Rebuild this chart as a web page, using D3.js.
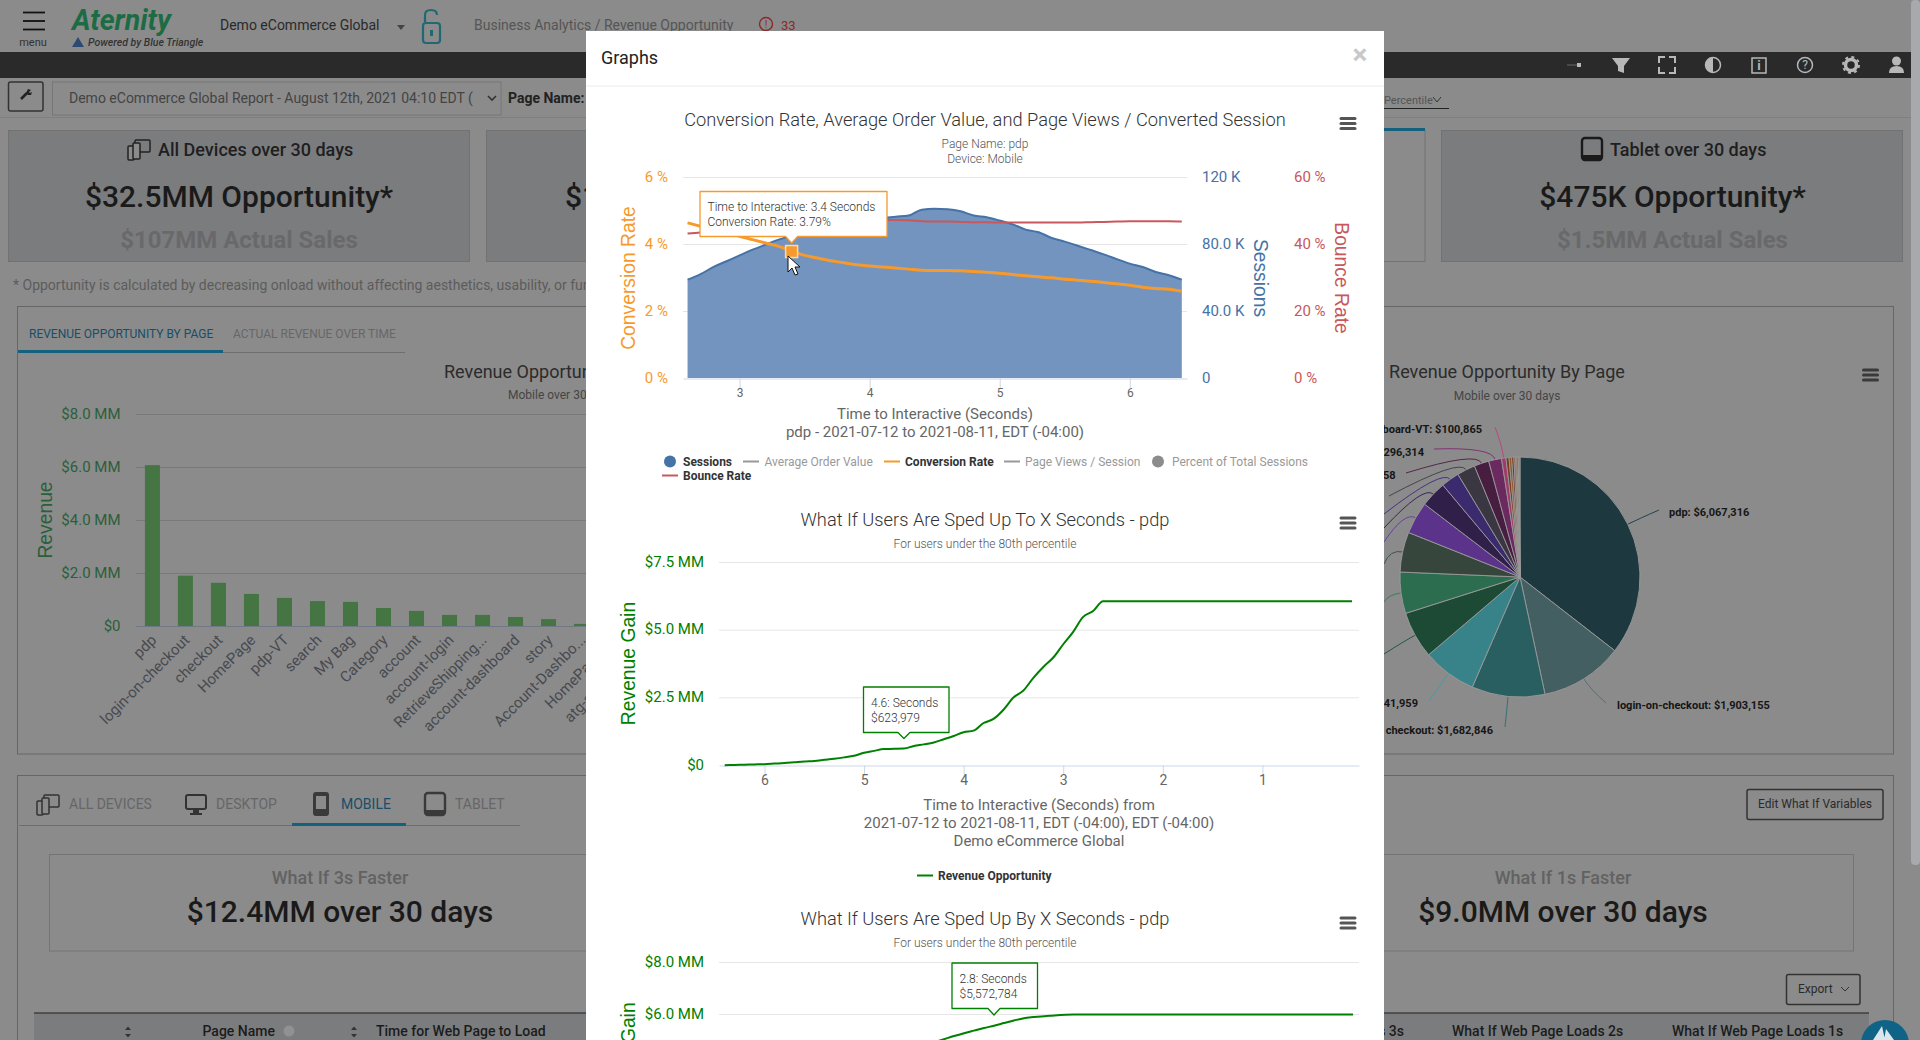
<!DOCTYPE html>
<html>
<head>
<meta charset="utf-8">
<title>Revenue Opportunity</title>
<script src="https://cdn.jsdelivr.net/npm/d3@7"></script>
<style>
  html, body { margin: 0; padding: 0; background: #8b8b8b; overflow: hidden; }
  svg { display: block; font-family: Roboto, sans-serif; }
  .axisTitle { font-family: "Liberation Sans", Arial, sans-serif; font-size: 19.3px; }
</style>
</head>
<body>
<svg id="page" width="1920" height="1040"></svg>
<script>
// Chart 1: sessions, conversion and bounce by time to interactive
var timeSeconds = [2.6,2.7,2.8,2.9,3.0,3.1,3.2,3.3,3.4,3.5,3.6,3.7,3.8,3.9,4.0,4.1,4.2,4.3,4.4,4.5,4.6,4.7,4.8,4.9,5.0,5.1,5.2,5.3,5.4,5.5,5.6,5.7,5.8,5.9,6.0,6.1,6.2,6.3,6.4];
var sessions = [58.7,62,66.3,69.7,73.2,76.6,79.6,82.6,85,87.5,90,91.5,93,94.5,95,95.5,96.3,97,100.5,101,100.7,99.5,97,96,94,91.7,88.6,87,83.6,81.4,79,76.4,73.8,71,68.3,66.3,63.3,61.3,58.7];
var conversionRate = [4.63,4.53,4.44,4.34,4.23,4.13,4.03,3.93,3.79,3.66,3.58,3.5,3.44,3.38,3.34,3.31,3.28,3.25,3.22,3.21,3.21,3.2,3.18,3.16,3.13,3.09,3.05,3.02,2.99,2.95,2.92,2.89,2.85,2.81,2.77,2.71,2.67,2.65,2.59];
var bounceRate = [43.1,43.4,43.8,44.2,44.7,45.2,45.6,46,46.3,46.6,46.8,46.9,47,47.1,47.1,47.2,47.2,47.1,46.8,46.7,46.7,46.6,46.5,46.5,46.4,46.4,46.4,46.4,46.4,46.4,46.4,46.5,46.6,46.7,46.8,46.8,46.8,46.8,46.7];
var percentTicks = [0, 2, 4, 6];
var sessionTicks = [0, 40, 80, 120];
var sessionTickLabels = ["0", "40.0 K", "80.0 K", "120 K"];
var bounceTicks = [0, 20, 40, 60];
var secondTicks = [3, 4, 5, 6];

// Chart 2: what if users are sped up to x seconds
var toSeconds = [6.4,6.3,6.2,6.1,6.0,5.9,5.8,5.7,5.6,5.5,5.4,5.3,5.2,5.1,5.0,4.9,4.8,4.7,4.6,4.5,4.4,4.3,4.2,4.1,4.0,3.9,3.8,3.7,3.6,3.5,3.4,3.3,3.2,3.1,3.0,2.9,2.8,2.7,2.6,2.0,1.0,0.1];
var toRevenue = [0.01,0.02,0.03,0.04,0.05,0.07,0.09,0.12,0.15,0.17,0.21,0.25,0.3,0.36,0.47,0.54,0.61,0.615,0.624,0.72,0.78,0.85,0.97,1.09,1.23,1.29,1.57,1.72,2.06,2.51,2.77,3.24,3.64,3.99,4.48,4.94,5.49,5.71,6.07,6.07,6.07,6.07];
var toRevenueTicks = [0, 2.5, 5, 7.5];
var toSecondTicks = [6, 5, 4, 3, 2, 1];

// Chart 3: what if users are sped up by x seconds (only the top of it is on screen)
var bySeconds = [2.2,2.3,2.4,2.5,2.6,2.7,2.8,2.9,3.0,3.1,3.2,3.36,3.6,4.0,5.0,6.4];
var byRevenue = [4.93,5.05,5.17,5.28,5.38,5.48,5.57,5.67,5.77,5.86,5.9,5.95,6.0,6.0,6.0,6.0];
var byRevenueTicks = [0, 2, 4, 6, 8];

// Background page: bar chart
var pageNames = ["pdp","login-on-checkout","checkout","HomePage","pdp-VT","search","My Bag","Category","account","account-login","RetrieveShipping...","account-dashboard","story","Account-Dashbo...","HomePage-VT","atg-account-login"];
var pageRevenue = [6.07,1.9,1.63,1.21,1.06,0.94,0.91,0.68,0.57,0.42,0.42,0.34,0.26,0.08,0.07,0.05];
var barTicks = [0, 2, 4, 6, 8];

// Background page: pie chart
var pieNames = ["pdp","login-on-checkout","checkout","HomePage","pdp-VT","search","My Bag","Category","account","account-login","RetrieveShipping","account-dashboard","story","Account-Dashboard-VT"];
var pieValues = [6067316,1903155,1682846,1241959,1080000,950000,920000,740000,600000,420000,420000,340958,296314,100865,70000,60000,50000,40000,30000,30000,20000,20000];
var pieColors = ["#1d383e","#445f62","#2a5f61","#38838a","#1d4a35","#2b6d4e","#36463d","#5b338a","#2f1f49","#3c2a6f","#3b3742","#471e3f","#6a2a60","#a03a6a","#7a3a20","#8b5a2b","#6e2f1d","#7d5a30","#a0522d","#5e4a2a","#8b4a20","#6a5a3a"];

var svg = d3.select("#page");
var page = svg.append("g");
var modal = svg.append("g");

function label(g, str, x, y, opts) {
  opts = opts || {};
  return g.append("text")
    .attr("x", x).attr("y", y)
    .attr("dy", "0.35em")
    .attr("text-anchor", opts.anchor || "start")
    .attr("font-size", opts.size || 14)
    .attr("font-weight", opts.weight || 400)
    .attr("font-style", opts.style || "normal")
    .attr("fill", opts.color || "#222")
    .text(str);
}

function box(g, x, y, w, h, fill, stroke, sw, r) {
  return g.append("rect")
    .attr("x", x).attr("y", y).attr("width", w).attr("height", h)
    .attr("fill", fill).attr("stroke", stroke || "none")
    .attr("stroke-width", sw || 1).attr("rx", r || 0);
}

function hline(g, x1, x2, y, color, sw) {
  g.append("line").attr("x1", x1).attr("x2", x2).attr("y1", y).attr("y2", y)
    .attr("stroke", color).attr("stroke-width", sw || 1);
}

function burger(g, x, y, color) {
  [-5, 0, 5].forEach(function(d) {
    g.append("line").attr("x1", x - 7).attr("x2", x + 7).attr("y1", y + d).attr("y2", y + d)
      .attr("stroke", color).attr("stroke-width", 3).attr("stroke-linecap", "round");
  });
}

function tabletIcon(g, x, y, w, h, color) {
  box(g, x + 1, y + 1, w - 2, h - 2, "none", color, 2.4, 3);
  box(g, x + 1, y + h - 6, w - 2, 5, color, null, 1, 1);
}

function desktopIcon(g, x, y, color) {
  box(g, x + 1, y + 1, 20, 14, "none", color, 2, 2);
  box(g, x + 8, y + 16, 6, 3, color);
  box(g, x + 5, y + 19, 12, 2, color);
}

function devicesIcon(g, x, y, color) {
  box(g, x + 8, y + 1, 15, 12, "none", color, 1.5, 1);
  box(g, x + 1, y + 7, 6, 14, "#8b8b8b", color, 1.5, 1);
  box(g, x + 6, y + 4, 7, 16, "#8b8b8b", color, 1.5, 1);
}

// ---- background page ----
function drawHeader() {
  [12.5, 21, 29.5].forEach(function(y) { hline(page, 23, 45, y, "#111", 1.8); });
  label(page, "menu", 33, 42, {anchor: "middle", size: 11, color: "#333"});
  label(page, "Aternity", 72, 20, {size: 28.5, weight: 700, style: "italic", color: "#1d6b45"});
  page.append("path").attr("d", d3.line()([[72, 47], [78, 37], [84, 47]]) + "Z").attr("fill", "#2d4a73");
  label(page, "Powered by Blue Triangle", 88, 42, {size: 10.5, weight: 500, style: "italic", color: "#333"});
  label(page, "Demo eCommerce Global", 220, 25, {size: 14, color: "#2a2a2a"});
  page.append("path").attr("d", d3.line()([[397, 25], [405, 25], [401, 30]]) + "Z").attr("fill", "#444");
  box(page, 423, 23, 17, 20, "none", "#1f6a72", 2.2, 3);
  page.append("path").attr("d", "M425 22 V15 Q425 10 431 10 Q437 10 437 15").attr("fill", "none").attr("stroke", "#1f6a72").attr("stroke-width", 2.2);
  box(page, 430, 30, 3, 6, "#1f6a72");
  label(page, "Business Analytics / Revenue Opportunity", 474, 25, {size: 14, color: "#555"});
  page.append("circle").attr("cx", 766).attr("cy", 24).attr("r", 6.5).attr("fill", "none").attr("stroke", "#8a2a2a").attr("stroke-width", 1.4);
  label(page, "!", 766, 24, {anchor: "middle", size: 10, color: "#8a2a2a"});
  label(page, "33", 781, 25, {size: 13, color: "#8a2a2a"});

  box(page, 0, 52, 1911, 26, "#2a2a2a");

  var c = "#b8b8b8";
  hline(page, 1567, 1578, 65, "#555", 1.5);
  box(page, 1577, 63, 4, 4, c);
  page.append("path").attr("d", d3.line()([[1612, 58], [1630, 58], [1624, 66], [1624, 73], [1618, 71], [1618, 66]]) + "Z").attr("fill", c);
  page.append("path").attr("d", "M1659 63 V57 H1665 M1669 57 H1675 V63 M1675 67 V73 H1669 M1665 73 H1659 V67").attr("fill", "none").attr("stroke", c).attr("stroke-width", 2);
  page.append("circle").attr("cx", 1713).attr("cy", 65).attr("r", 7.5).attr("fill", "none").attr("stroke", c).attr("stroke-width", 1.5);
  page.append("path").attr("d", "M1713 57.5 A7.5 7.5 0 0 0 1713 72.5 Z").attr("fill", c);
  box(page, 1752, 58, 14, 15, "none", c, 1.5);
  label(page, "i", 1759, 65, {anchor: "middle", size: 13, weight: 700, color: c});
  page.append("circle").attr("cx", 1805).attr("cy", 65).attr("r", 7.5).attr("fill", "none").attr("stroke", c).attr("stroke-width", 1.5);
  label(page, "?", 1805, 65, {anchor: "middle", size: 12, color: c});
  page.append("circle").attr("cx", 1851).attr("cy", 65).attr("r", 5.5).attr("fill", "none").attr("stroke", c).attr("stroke-width", 3.5);
  page.append("circle").attr("cx", 1851).attr("cy", 65).attr("r", 8).attr("fill", "none").attr("stroke", c).attr("stroke-width", 2).attr("stroke-dasharray", "3 3.3");
  page.append("circle").attr("cx", 1896.5).attr("cy", 61).attr("r", 4.5).attr("fill", c);
  page.append("path").attr("d", "M1889 73 Q1889 66 1896.5 66 Q1904 66 1904 73 Z").attr("fill", c);

  box(page, 8.5, 82, 34.5, 29, "none", "#333", 1.5, 2);
  page.append("path").attr("d", "M21 99 L27 93").attr("fill", "none").attr("stroke", "#222").attr("stroke-width", 2.6);
  page.append("path").attr("d", "M26 93 L28 89 L31 90 L29 92 L30 93 L32 92 L31 95 L28 95 Z").attr("fill", "#222");
  box(page, 52.5, 82, 448.5, 33, "none", "#777", 1);
  label(page, "Demo eCommerce Global Report - August 12th, 2021 04:10 EDT (", 69, 98, {size: 14, color: "#444"});
  page.append("path").attr("d", "M488 96 L492 100 L496 96").attr("fill", "none").attr("stroke", "#333").attr("stroke-width", 1.6);
  label(page, "Page Name:", 508, 98, {size: 14, weight: 700, color: "#222"});
  hline(page, 0, 1911, 117.5, "#7f7f7f");
  label(page, "Percentile", 1384, 100, {size: 11, color: "#555"});
  page.append("path").attr("d", "M1433 97 L1437 102 L1441 97").attr("fill", "none").attr("stroke", "#333");
  hline(page, 1384, 1449, 108.5, "#222");
}

function drawCards() {
  var cardFill = "#7b7c7e", cardLine = "#727272";
  box(page, 8.5, 130.5, 461, 131, cardFill, cardLine);
  box(page, 486.5, 130.5, 200, 131, cardFill, cardLine);
  box(page, 1300, 130.5, 125, 131, "none", cardLine);
  box(page, 1300, 128, 125, 3, "#14607f");
  box(page, 1441.5, 130.5, 461, 131, cardFill, cardLine);

  devicesIcon(page, 127, 139, "#222");
  label(page, "All Devices over 30 days", 158, 150, {size: 18, weight: 500, color: "#1f1f1f"});
  label(page, "$32.5MM Opportunity*", 239, 196, {anchor: "middle", size: 30, weight: 500, color: "#1a1a1a"});
  label(page, "$107MM Actual Sales", 239, 239.5, {anchor: "middle", size: 24, weight: 700, color: "#69696b"});
  label(page, "$1", 565, 196, {size: 30, weight: 500, color: "#1a1a1a"});

  tabletIcon(page, 1581, 137, 22, 24, "#1a1a1a");
  label(page, "Tablet over 30 days", 1610, 150, {size: 18, weight: 500, color: "#1f1f1f"});
  label(page, "$475K Opportunity*", 1672.5, 196, {anchor: "middle", size: 30, weight: 500, color: "#1a1a1a"});
  label(page, "$1.5MM Actual Sales", 1672.5, 239.5, {anchor: "middle", size: 24, weight: 700, color: "#69696b"});

  label(page, "* Opportunity is calculated by decreasing onload without affecting aesthetics, usability, or functionality", 13, 285, {size: 14, color: "#5c5c5c"});
}

function drawBarChart() {
  box(page, 17.5, 306.5, 1876, 447.5, "none", "#666");
  label(page, "REVENUE OPPORTUNITY BY PAGE", 29, 333.5, {size: 12, color: "#174e69"});
  label(page, "ACTUAL REVENUE OVER TIME", 233, 333.5, {size: 12, color: "#676767"});
  hline(page, 18, 405, 352.5, "#6e6e6e");
  box(page, 18, 350, 205, 3, "#14607f");
  label(page, "Revenue Opportunity By Page", 444, 371.5, {size: 18, color: "#2b2b2b"});
  label(page, "Mobile over 30 days", 508, 395, {size: 12, color: "#454545"});

  var x = d3.scaleBand().domain(pageNames).range([136, 136 + 33 * pageNames.length]).paddingInner(0.545).paddingOuter(0.27);
  var y = d3.scaleLinear().domain([0, 8]).range([626, 414]);

  var grid = page.append("g");
  grid.selectAll("line").data(barTicks).join("line")
    .attr("x1", 136).attr("x2", 1384)
    .attr("y1", function(d) { return y(d) + 0.5; }).attr("y2", function(d) { return y(d) + 0.5; })
    .attr("stroke", d3.color("#797979")).attr("stroke-width", 1);

  var yAxis = d3.axisLeft(y).tickValues(barTicks).tickSize(0).tickPadding(15)
    .tickFormat(function(d) { return d === 0 ? "$0" : "$" + d.toFixed(1) + " MM"; });
  page.append("g").attr("transform", "translate(135.5,0)").call(yAxis)
    .call(function(g) { g.select(".domain").remove(); })
    .selectAll("text").attr("fill", "#2b5f3a").attr("font-size", 15).attr("font-family", "Roboto");

  page.append("g").selectAll("rect").data(pageRevenue).join("rect")
    .attr("x", function(d, i) { return x(pageNames[i]); })
    .attr("width", x.bandwidth())
    .attr("y", function(d) { return y(d); })
    .attr("height", function(d) { return y(0) - y(d); })
    .attr("fill", "#467544");

  var xAxis = d3.axisBottom(x).tickSize(0).tickPadding(0);
  var xg = page.append("g").attr("transform", "translate(0,626)").call(xAxis);
  xg.select(".domain").remove();
  xg.selectAll("text")
    .attr("font-family", "Roboto").attr("font-size", 15).attr("fill", "#474a50")
    .attr("text-anchor", "end").attr("dy", 0)
    .attr("transform", "translate(5,15) rotate(-45)");

  hline(page, 136, 586, 626.5, "#6f7884");
  page.append("text").attr("class", "axisTitle")
    .attr("transform", "translate(45,520) rotate(-90)")
    .attr("dy", "0.35em").attr("text-anchor", "middle").attr("fill", "#2a5f3a").text("Revenue");
}

function drawPie() {
  var cx = 1520, cy = 577, r = 120;
  label(page, "Revenue Opportunity By Page", 1507, 371.5, {anchor: "middle", size: 18, color: "#2b2b2b"});
  label(page, "Mobile over 30 days", 1507, 395.5, {anchor: "middle", size: 12, color: "#454545"});
  burger(page, 1870.5, 375, "#3a3a3a");

  var pie = d3.pie().sort(null).value(function(d) { return d; });
  var arcs = pie(pieValues);
  var arc = d3.arc().innerRadius(0).outerRadius(r);
  var g = page.append("g").attr("transform", "translate(" + cx + "," + cy + ")");

  // where each connector ends, relative to the page
  var connectorEnds = [[1659,510],[1606,703],[1505,727],[1429,701],[1384,654],[1384,602],[1384,564],[1384,542],[1384,528],[1384,514],[1389,496],[1406,473],[1434,449],[1495,427]];
  connectorEnds.forEach(function(end, i) {
    var a = (arcs[i].startAngle + arcs[i].endAngle) / 2;
    var sx = Math.sin(a) * r, sy = -Math.cos(a) * r;
    var cxx = Math.sin(a) * (r + 13), cyy = -Math.cos(a) * (r + 13);
    g.append("path")
      .attr("d", "M" + sx + " " + sy + " Q" + cxx + " " + cyy + " " + (end[0] - cx) + " " + (end[1] - cy))
      .attr("fill", "none").attr("stroke", d3.color(pieColors[i]).brighter(0.5)).attr("stroke-width", 1);
  });

  g.selectAll("path.slice").data(arcs).join("path").attr("class", "slice")
    .attr("d", arc)
    .attr("fill", function(d, i) { return pieColors[i]; })
    .attr("stroke", "#9a9a9a").attr("stroke-width", 0.9);

  function pieText(i) { return pieNames[i] + ": $" + d3.format(",")(pieValues[i]); }
  var opts = {size: 11, weight: 700, color: "#161616"};
  label(page, pieText(0), 1669, 512, opts);
  label(page, pieText(1), 1617, 705, opts);
  var endOpts = {size: 11, weight: 700, color: "#161616", anchor: "end"};
  label(page, pieText(2), 1493, 730, endOpts);
  label(page, pieText(3), 1418, 703, endOpts);
  label(page, pieText(11), 1395.5, 475, endOpts);
  label(page, pieText(12), 1424, 452, endOpts);
  label(page, pieText(13), 1482, 429, endOpts);
}

function drawWhatIf() {
  box(page, 17.5, 775.5, 1876, 300, "none", "#666");
  devicesIcon(page, 36, 794, "#333");
  label(page, "ALL DEVICES", 69, 804, {size: 14, color: "#666"});
  desktopIcon(page, 185, 794, "#333");
  label(page, "DESKTOP", 216, 804, {size: 14, color: "#666"});
  box(page, 313, 792, 16, 24, "#3a3a3a", null, 1, 3);
  box(page, 316, 796, 10, 13, "#8b8b8b");
  label(page, "MOBILE", 341, 804, {size: 14, color: "#174e69"});
  tabletIcon(page, 424, 792, 22, 24, "#3a3a3a");
  label(page, "TABLET", 455, 804, {size: 14, color: "#666"});
  hline(page, 19, 520, 825.5, "#6e6e6e");
  box(page, 292, 823, 114, 3, "#14607f");

  box(page, 49.5, 854.5, 1804, 96.5, "none", "#747474");
  label(page, "What If 3s Faster", 340, 877.5, {anchor: "middle", size: 18, weight: 500, color: "#626262"});
  label(page, "$12.4MM over 30 days", 340, 911.5, {anchor: "middle", size: 30, weight: 500, color: "#1a1a1a"});
  label(page, "What If 1s Faster", 1563, 877.5, {anchor: "middle", size: 18, weight: 500, color: "#626262"});
  label(page, "$9.0MM over 30 days", 1563, 911.5, {anchor: "middle", size: 30, weight: 500, color: "#1a1a1a"});

  box(page, 1747, 789.5, 136, 30, "none", "#333", 1.5, 2);
  label(page, "Edit What If Variables", 1815, 804, {anchor: "middle", size: 12, color: "#2a2a2a"});
  box(page, 1786.5, 974.5, 73.5, 30, "none", "#333", 1.5, 2);
  label(page, "Export", 1798, 989, {size: 12, color: "#2a2a2a"});
  page.append("path").attr("d", "M1841 987 L1845 991 L1849 987").attr("fill", "none").attr("stroke", "#333");

  box(page, 34, 1013, 1835, 27, "#7b7c7e");
  hline(page, 34, 1869, 1013, "#1e1e1e", 1.2);
  var sortX = [128, 354];
  sortX.forEach(function(sx) {
    page.append("path").attr("d", "M" + (sx - 3) + " 1030 L" + sx + " 1026.5 L" + (sx + 3) + " 1030 Z M" + (sx - 3) + " 1034 L" + sx + " 1037.5 L" + (sx + 3) + " 1034 Z").attr("fill", "#333");
  });
  label(page, "Page Name", 202.5, 1031.5, {size: 14, weight: 500, color: "#1c1c1c"});
  page.append("circle").attr("cx", 289).attr("cy", 1031).attr("r", 5.5).attr("fill", "#8f9194");
  label(page, "Time for Web Page to Load", 376, 1031, {size: 14, weight: 500, color: "#1c1c1c"});
  label(page, "What If Web Page Loads 3s", 1404, 1031, {anchor: "end", size: 14, weight: 500, color: "#1c1c1c"});
  label(page, "What If Web Page Loads 2s", 1452, 1031, {size: 14, weight: 500, color: "#1c1c1c"});
  label(page, "What If Web Page Loads 1s", 1672, 1031, {size: 14, weight: 500, color: "#1c1c1c"});
  page.append("circle").attr("cx", 1885).attr("cy", 1044).attr("r", 24).attr("fill", "#0f6386");
  page.append("path").attr("d", "M1873 1040 L1882 1026 L1885 1040 Z M1884 1040 L1886 1029 L1894 1040 Z").attr("fill", "#d9e6ec");
  box(page, 1911, 0, 9, 865, "#a7a9ac", null, 1, 4);
}

// ---- modal charts ----
function tooltip(g, x, y, w, h, tipX, tipY, color, lines) {
  var arrow = 6;
  var path = d3.path();
  path.moveTo(x, y); path.lineTo(x + w, y); path.lineTo(x + w, y + h);
  path.lineTo(tipX + arrow, y + h); path.lineTo(tipX, tipY); path.lineTo(tipX - arrow, y + h);
  path.lineTo(x, y + h); path.closePath();
  g.append("path").attr("d", path.toString()).attr("fill", "#fff").attr("stroke", color)
    .attr("stroke-width", 1.3).attr("stroke-linejoin", "round");
  lines.forEach(function(t, i) {
    label(g, t, x + 7.5, y + 15.5 + i * 15, {size: 12, weight: 300, color: "#333"});
  });
}

function legendLine(g, x, y, color) {
  g.append("line").attr("x1", x).attr("x2", x + 16).attr("y1", y).attr("y2", y)
    .attr("stroke", color).attr("stroke-width", 2);
}

function styleTicks(sel, color, size) {
  sel.call(function(g) { g.select(".domain").remove(); });
  sel.selectAll("text").attr("fill", color).attr("font-size", size).attr("font-family", "Roboto");
}

function drawChartOne() {
  var g = modal.append("g");
  var x = d3.scaleLinear().domain([2.565, 6.44]).range([683, 1187]);
  var yConv = d3.scaleLinear().domain([0, 6]).range([378, 177]);
  var ySess = d3.scaleLinear().domain([0, 120]).range([378, 177]);
  var yBounce = d3.scaleLinear().domain([0, 60]).range([378, 177]);
  var orange = "#f79a2d", blue = "#4572a7", red = "#c8585c";

  label(g, "Conversion Rate, Average Order Value, and Page Views / Converted Session", 985, 120, {anchor: "middle", size: 18.25, weight: 300, color: "#333"});
  label(g, "Page Name: pdp", 985, 144, {anchor: "middle", size: 12, weight: 300, color: "#555"});
  label(g, "Device: Mobile", 985, 159, {anchor: "middle", size: 12, weight: 300, color: "#555"});
  burger(g, 1348, 123.5, "#555");

  percentTicks.forEach(function(t) {
    if (t > 0) hline(g, 683, 1187, yConv(t) + 0.5, "#e6e6e6");
  });

  var yLeft = d3.axisLeft(yConv).tickValues(percentTicks).tickSize(0).tickPadding(15).tickFormat(function(d) { return d + " %"; });
  g.append("g").attr("transform", "translate(683,0)").call(yLeft).call(styleTicks, orange, 15);
  var ySessAxis = d3.axisRight(ySess).tickValues(sessionTicks).tickSize(0).tickPadding(0)
    .tickFormat(function(d, i) { return sessionTickLabels[i]; });
  g.append("g").attr("transform", "translate(1202,0)").call(ySessAxis).call(styleTicks, "#4572a7", 15);
  var yBounceAxis = d3.axisRight(yBounce).tickValues(bounceTicks).tickSize(0).tickPadding(0).tickFormat(function(d) { return d + " %"; });
  g.append("g").attr("transform", "translate(1294,0)").call(yBounceAxis).call(styleTicks, red, 15);

  var area = d3.area().x(function(d, i) { return x(timeSeconds[i]); }).y0(yConv(0)).y1(function(d) { return ySess(d); }).curve(d3.curveMonotoneX);
  var sessLine = d3.line().x(function(d, i) { return x(timeSeconds[i]); }).y(function(d) { return ySess(d); }).curve(d3.curveMonotoneX);
  var convLine = d3.line().x(function(d, i) { return x(timeSeconds[i]); }).y(function(d) { return yConv(d); }).curve(d3.curveMonotoneX);
  var bounceLine = d3.line().x(function(d, i) { return x(timeSeconds[i]); }).y(function(d) { return yBounce(d); }).curve(d3.curveMonotoneX);

  g.append("path").attr("d", area(sessions)).attr("fill", "#7294be");
  g.append("path").attr("d", sessLine(sessions)).attr("fill", "none").attr("stroke", blue).attr("stroke-width", 2);
  g.append("path").attr("d", bounceLine(bounceRate)).attr("fill", "none").attr("stroke", red).attr("stroke-width", 2);
  g.append("path").attr("d", convLine(conversionRate)).attr("fill", "none").attr("stroke", orange).attr("stroke-width", 3);

  var xAxis = d3.axisBottom(x).tickValues(secondTicks).tickSize(10).tickSizeOuter(0).tickPadding(0).tickFormat(d3.format("d"));
  var xg = g.append("g").attr("transform", "translate(0,378.5)").call(xAxis);
  xg.select(".domain").attr("stroke", "#ccd6eb");
  xg.selectAll("line").attr("stroke", "#ccd6eb");
  xg.selectAll("text").attr("fill", "#666").attr("font-size", 12).attr("font-family", "Roboto");

  g.append("text").attr("class", "axisTitle").attr("transform", "translate(628,278) rotate(-90)")
    .attr("dy", "0.35em").attr("text-anchor", "middle").attr("fill", orange).text("Conversion Rate");
  g.append("text").attr("class", "axisTitle").attr("transform", "translate(1261,278) rotate(90)")
    .attr("dy", "0.35em").attr("text-anchor", "middle").attr("fill", blue).text("Sessions");
  g.append("text").attr("class", "axisTitle").attr("transform", "translate(1342,278) rotate(90)")
    .attr("dy", "0.35em").attr("text-anchor", "middle").attr("fill", red).text("Bounce Rate");

  label(g, "Time to Interactive (Seconds)", 935, 414, {anchor: "middle", size: 15, color: "#666"});
  label(g, "pdp - 2021-07-12 to 2021-08-11, EDT (-04:00)", 935, 431.5, {anchor: "middle", size: 15, color: "#666"});

  g.append("circle").attr("cx", 670).attr("cy", 461.5).attr("r", 6).attr("fill", blue);
  label(g, "Sessions", 683, 462, {size: 12, weight: 700, color: "#333"});
  legendLine(g, 743, 461.5, "#999");
  label(g, "Average Order Value", 764.5, 462, {size: 12, color: "#999"});
  legendLine(g, 884, 461.5, orange);
  label(g, "Conversion Rate", 905, 462, {size: 12, weight: 700, color: "#333"});
  legendLine(g, 1004, 461.5, "#999");
  label(g, "Page Views / Session", 1025, 462, {size: 12, color: "#999"});
  g.append("circle").attr("cx", 1158).attr("cy", 461.5).attr("r", 6).attr("fill", "#8c8c8c");
  label(g, "Percent of Total Sessions", 1172, 462, {size: 12, color: "#999"});
  legendLine(g, 662, 475.5, red);
  label(g, "Bounce Rate", 683, 476, {size: 12, weight: 700, color: "#333"});

  // hovered point and tooltip
  var hoverX = x(timeSeconds[8]), hoverY = yConv(conversionRate[8]);
  g.append("rect").attr("x", hoverX - 6).attr("y", hoverY - 5.5).attr("width", 12).attr("height", 12)
    .attr("fill", orange).attr("stroke", "#ffd9a8").attr("stroke-width", 1.5);
  tooltip(g, 700, 191.5, 187, 45, hoverX, 243, orange,
    ["Time to Interactive: 3.4 Seconds", "Conversion Rate: 3.79%"]);
  g.append("path").attr("d", "M788 256 L788 272 L792 268 L795 275 L798 274 L795 267 L800 267 Z")
    .attr("fill", "#fff").attr("stroke", "#111").attr("stroke-width", 1);
}

function drawChartTwo() {
  var g = modal.append("g");
  var x = d3.scaleLinear().domain([6.457, 0.03]).range([719, 1359]);
  var y = d3.scaleLinear().domain([0, 7.5]).range([765.5, 562.5]);
  var green = "#008000";

  label(g, "What If Users Are Sped Up To X Seconds - pdp", 985, 519.5, {anchor: "middle", size: 18.25, weight: 300, color: "#333"});
  label(g, "For users under the 80th percentile", 985, 543.5, {anchor: "middle", size: 12, weight: 300, color: "#555"});
  burger(g, 1348, 523, "#555");

  toRevenueTicks.forEach(function(t) {
    if (t > 0) hline(g, 719, 1359, y(t), "#e6e6e6");
  });
  var yAxis = d3.axisLeft(y).tickValues(toRevenueTicks).tickSize(0).tickPadding(15)
    .tickFormat(function(d) { return d === 0 ? "$0" : "$" + d.toFixed(1) + " MM"; });
  g.append("g").attr("transform", "translate(719,-1)").call(yAxis).call(styleTicks, green, 15);

  var xAxis = d3.axisBottom(x).tickValues(toSecondTicks).tickSize(10).tickSizeOuter(0).tickPadding(0).tickFormat(d3.format("d"));
  var xg = g.append("g").attr("transform", "translate(0,765.5)").call(xAxis);
  xg.select(".domain").attr("stroke", "#ccd6eb");
  xg.selectAll("line").attr("stroke", "#ccd6eb");
  xg.selectAll("text").attr("fill", "#666").attr("font-size", 14).attr("font-family", "Roboto");

  var line = d3.line().x(function(d, i) { return x(toSeconds[i]); }).y(function(d) { return y(d); }).curve(d3.curveMonotoneX);
  g.append("path").attr("d", line(toRevenue)).attr("fill", "none").attr("stroke", green).attr("stroke-width", 2);

  g.append("text").attr("class", "axisTitle").attr("transform", "translate(628,663.5) rotate(-90)")
    .attr("dy", "0.35em").attr("text-anchor", "middle").attr("fill", green).text("Revenue Gain");

  label(g, "Time to Interactive (Seconds) from", 1039, 805, {anchor: "middle", size: 15, color: "#666"});
  label(g, "2021-07-12 to 2021-08-11, EDT (-04:00), EDT (-04:00)", 1039, 823, {anchor: "middle", size: 15, color: "#666"});
  label(g, "Demo eCommerce Global", 1039, 841, {anchor: "middle", size: 15, color: "#666"});

  legendLine(g, 917, 875.5, green);
  label(g, "Revenue Opportunity", 938, 875.5, {size: 12, weight: 700, color: "#333"});

  tooltip(g, 863.5, 687, 85.5, 45.5, x(4.6), 738.5, green, ["4.6: Seconds", "$623,979"]);
}

function drawChartThree() {
  var g = modal.append("g");
  var x = d3.scaleLinear().domain([0.043, 6.46]).range([719, 1359]);
  var y = d3.scaleLinear().domain([0, 8]).range([1170.5, 962.5]);
  var green = "#008000";

  label(g, "What If Users Are Sped Up By X Seconds - pdp", 985, 919, {anchor: "middle", size: 18.25, weight: 300, color: "#333"});
  label(g, "For users under the 80th percentile", 985, 943, {anchor: "middle", size: 12, weight: 300, color: "#555"});
  burger(g, 1348, 923, "#555");

  byRevenueTicks.forEach(function(t) { hline(g, 719, 1359, y(t), "#e6e6e6"); });
  var yAxis = d3.axisLeft(y).tickValues(byRevenueTicks).tickSize(0).tickPadding(15)
    .tickFormat(function(d) { return d === 0 ? "$0" : "$" + d.toFixed(1) + " MM"; });
  g.append("g").attr("transform", "translate(719,-1)").call(yAxis).call(styleTicks, green, 15);

  var line = d3.line().x(function(d, i) { return x(bySeconds[i]); }).y(function(d) { return y(d); }).curve(d3.curveMonotoneX);
  g.append("path").attr("d", line(byRevenue)).attr("fill", "none").attr("stroke", green).attr("stroke-width", 2);

  g.append("text").attr("class", "axisTitle").attr("transform", "translate(628,1064) rotate(-90)")
    .attr("dy", "0.35em").attr("text-anchor", "middle").attr("fill", green).text("Revenue Gain");

  tooltip(g, 952, 963, 85.5, 45.5, x(2.8), 1015, green, ["2.8: Seconds", "$5,572,784"]);
}

drawHeader();
drawCards();
drawBarChart();
drawPie();
drawWhatIf();

// modal sits on top of everything below it
box(modal, 586, 31, 798, 1010, "#fff");
label(modal, "Graphs", 601, 58, {size: 18, color: "#222"});
label(modal, "\u00d7", 1360, 54, {anchor: "middle", size: 28, weight: 700, color: "#c9c9c9"});
hline(modal, 586, 1384, 86, "#e9ecef");
drawChartOne();
drawChartTwo();
drawChartThree();
</script>
</body>
</html>
